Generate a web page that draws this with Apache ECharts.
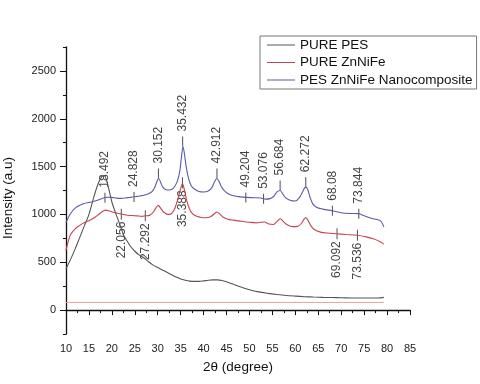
<!DOCTYPE html>
<html>
<head>
<meta charset="utf-8">
<script src="https://cdn.jsdelivr.net/npm/echarts@6/dist/echarts.min.js"></script>
<style>html,body{margin:0;padding:0;background:#fff}#c{width:480px;height:384px}</style>
</head>
<body>
<div id="c"></div>
<script>
// ---- data ----
var seriesNames = ['PURE PES', 'PURE ZnNiFe', 'PES ZnNiFe Nanocomposite'];
var xTitle = '2θ (degree)';
var yTitle = 'Intensity (a.u)';

var pesX = [10,11,12,13,14,15,16,17,17.8,18.3,19,20,21,22,22.5,23,24,25,26,27,28,29,30,31,32,33,34,35,36,37,38,39,40,41,42,43,44,45,46,47,48,50,52,54,56,58,60,62,64,66,68,70,72,74,76,78,79.3];
var pesY = [432,530,640,760,880,1000,1170,1320,1395,1410,1330,1130,990,860,790,745,670,615,575,545,505,470,445,420,395,370,345,325,312,303,300,300,305,312,316,316,310,296,278,260,243,213,190,175,163,153,146,140,136,133,131,129,127,126,126,127,133];

var znX = [10,10.5,11,12,13,14,15,16,17,17.8,18.6,19.5,20.5,21.5,22.5,23.5,24.5,25.5,26.5,27.3,28.2,28.9,29.5,30.1,30.7,31.4,32.2,32.9,33.5,34,34.5,35,35.4,35.8,36.3,36.9,37.6,38.5,39.5,40.5,41.5,42.3,42.9,43.5,44.3,45.3,46.5,48,50,51.5,52.5,53.2,54.2,55.2,56,56.7,57.4,58.2,59.5,60.5,61.3,61.9,62.3,62.8,63.4,64.2,65.5,67,69,71,73.5,75.5,77,78.5,79.3];
var znY = [624,720,790,850,885,915,935,960,995,1025,1045,1035,1020,1010,1000,992,988,985,980,985,990,1015,1060,1095,1060,1020,1000,1005,1040,1100,1180,1270,1320,1260,1150,1060,1005,980,968,965,975,1005,1025,1005,970,950,940,930,918,912,918,920,900,895,925,955,925,892,872,875,905,950,966,935,880,840,815,805,798,790,782,765,745,715,690];

var nanoX = [10,11,12,13,14,15,16,17,18,19,20,21,22,23,24,25,26,27,28,28.8,29.4,29.9,30.2,30.6,31.1,31.8,32.5,33.2,33.8,34.3,34.8,35.2,35.5,35.8,36.2,36.7,37.3,38,39,40,41,41.8,42.4,42.9,43.4,44,44.8,45.8,47,49.2,51,52.5,53.5,54.5,55.3,56,56.7,57.3,58,59,60,60.8,61.5,62,62.3,62.7,63.2,63.8,64.6,66,68,70,72,73.8,75,76.5,78.5,79.3];
var nanoY = [915,1010,1065,1095,1115,1125,1135,1150,1170,1180,1178,1170,1168,1172,1178,1185,1192,1200,1215,1240,1290,1355,1375,1340,1285,1258,1255,1265,1300,1350,1450,1610,1710,1640,1500,1380,1300,1265,1240,1235,1245,1280,1345,1375,1340,1280,1235,1205,1190,1178,1175,1172,1160,1165,1190,1235,1250,1210,1170,1145,1140,1170,1230,1275,1285,1260,1180,1110,1075,1055,1038,1018,1010,1008,985,960,935,870];

var baseX = [10, 79.3];
var baseY = [80, 80];

// peak annotations
var nanoPeakX = [18.492, 24.828, 30.152, 35.432, 42.912, 49.204, 53.076, 56.684, 62.272, 68.08, 73.844];
var nanoPeakY = [1175, 1182, 1375, 1710, 1375, 1178, 1163, 1250, 1285, 1038, 1008];
var nanoPeakIsTop = [false, false, true, true, true, false, false, true, true, false, false];
var znPeakX = [22.056, 27.292, 35.388, 69.092, 73.536];
var znPeakY = [1003, 985, 1330, 798, 782];

var yTickLabels = [0, 500, 1000, 1500, 2000, 2500];

// ---- chart ----
function zip(xs, ys) { return xs.map(function (x, i) { return [x, ys[i]]; }); }
var FONT = '"Liberation Sans", Arial, sans-serif';
var colors = ['#555555', '#c2464c', '#5b5ba8'];

var chart = echarts.init(document.getElementById('c'), null, { renderer: 'canvas' });

var nanoAnn = nanoPeakX.map(function (x, i) {
  return { value: [x, nanoPeakY[i]], symbolOffset: [0, nanoPeakIsTop[i] ? -5 : 0] };
});

var option = {
  animation: false,
  backgroundColor: '#fff',
  textStyle: { fontFamily: FONT },
  grid: { left: 66, right: 70, top: 47, bottom: 50 },
  graphic: [{
    type: 'text', x: 8, y: 198, rotation: Math.PI / 2, silent: true,
    style: { text: yTitle, align: 'center', verticalAlign: 'middle', font: '13.5px "Liberation Sans", Arial, sans-serif', fill: '#111' }
  }],
  legend: {
    data: seriesNames,
    orient: 'vertical',
    left: 260,
    top: 36,
    padding: [2, 4, 2, 7],
    icon: 'rect',
    itemWidth: 28,
    itemHeight: 1,
    itemGap: 3.5,
    borderColor: '#777',
    borderWidth: 1,
    textStyle: { fontFamily: FONT, fontSize: 13.5, color: '#111', lineHeight: 14 }
  },
  xAxis: {
    type: 'value', min: 10, max: 85, interval: 5,
    name: xTitle, nameLocation: 'middle', nameGap: 26,
    nameTextStyle: { fontFamily: FONT, fontSize: 13.5, color: '#111' },
    axisLine: { lineStyle: { color: '#111', width: 1.3 } },
    axisTick: { length: 5, lineStyle: { color: '#111' } },
    minorTick: { show: true, splitNumber: 2, length: 3, lineStyle: { color: '#111' } },
    axisLabel: { fontSize: 11, color: '#222', margin: 9 },
    splitLine: { show: false }
  },
  yAxis: [
    {
      type: 'value', min: -250, max: 2750, interval: 250,
      axisLine: { show: true, lineStyle: { color: '#111', width: 1.3 } },
      axisTick: { show: true, length: 3, lineStyle: { color: '#111' } },
      axisLabel: { show: false },
      splitLine: { show: false }
    },
    {
      type: 'value', min: -250, max: 2750, interval: 250, position: 'left',
      axisLine: { show: false },
      axisTick: { show: true, length: 6, customValues: yTickLabels, lineStyle: { color: '#111' } },
      axisLabel: {
        fontSize: 11, color: '#222', margin: 10, customValues: yTickLabels,
        formatter: function (v) { return (v >= 0 && v % 500 === 0) ? String(v) : ''; }
      },
      splitLine: { show: false }
    }
  ],
  series: [
    { name: seriesNames[0], type: 'line', data: zip(pesX, pesY), symbol: 'none', smooth: 0.3,
      lineStyle: { color: colors[0], width: 1.1 }, itemStyle: { color: colors[0] } },
    { name: seriesNames[1], type: 'line', data: zip(znX, znY), symbol: 'none', smooth: 0.3,
      lineStyle: { color: colors[1], width: 1.1 }, itemStyle: { color: colors[1] } },
    { name: seriesNames[2], type: 'line', data: zip(nanoX, nanoY), symbol: 'none', smooth: 0.3,
      lineStyle: { color: colors[2], width: 1.1 }, itemStyle: { color: colors[2] } },
    { name: 'baseline', type: 'line', data: zip(baseX, baseY), symbol: 'none',
      lineStyle: { color: '#ec9ea3', width: 1 }, silent: true },
    { name: 'nanoPeaks', type: 'scatter', data: nanoAnn, symbol: 'rect', symbolSize: [1, 10],
      itemStyle: { color: '#222' }, silent: true,
      label: { show: true, position: 'top', distance: 5, rotate: 90, align: 'left', verticalAlign: 'middle',
        fontFamily: FONT, fontSize: 12, color: '#111',
        formatter: function (p) { return String(p.value[0]); } } },
    { name: 'znPeaks', type: 'scatter', data: zip(znPeakX, znPeakY), symbol: 'rect', symbolSize: [1, 11],
      itemStyle: { color: '#222' }, silent: true,
      label: { show: true, position: 'bottom', distance: 2, rotate: 90, align: 'right', verticalAlign: 'middle',
        fontFamily: FONT, fontSize: 12, color: '#111',
        formatter: function (p) { return String(p.value[0]); } } }
  ]
};
chart.setOption(option);
</script>
</body>
</html>
